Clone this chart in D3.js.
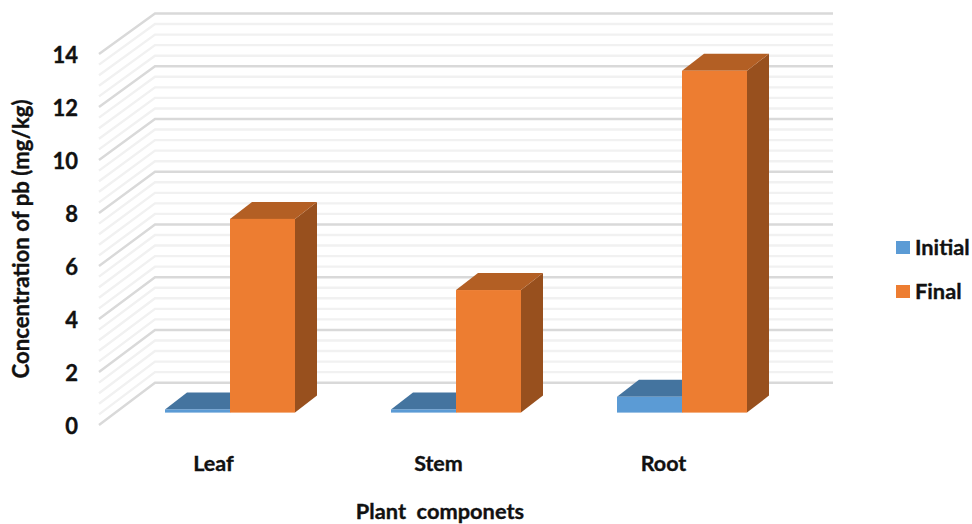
<!DOCTYPE html>
<html>
<head>
<meta charset="utf-8">
<script src="https://cdn.jsdelivr.net/npm/d3@7"></script>
<style>
  html, body { margin: 0; padding: 0; background: #fff; }
  svg { display: block; }
  text { font-family: Lato, "Open Sans", sans-serif; font-weight: 700; fill: #111; white-space: pre; stroke: #111; stroke-width: 0.35px; }
</style>
</head>
<body>
<svg id="chart" width="972" height="524"></svg>
<script>
const categories = ["Leaf", "Stem", "Root"];
const seriesNames = ["Initial", "Final"];
const initialValues = [0.12, 0.12, 0.6];
const finalValues = [7.35, 4.65, 12.97];
const majorTicks = [0, 2, 4, 6, 8, 10, 12, 14];
const minorTicks = [0.4, 0.8, 1.2, 1.6, 2.4, 2.8, 3.2, 3.6, 4.4, 4.8, 5.2, 5.6, 6.4, 6.8, 7.2, 7.6,
                    8.4, 8.8, 9.2, 9.6, 10.4, 10.8, 11.2, 11.6, 12.4, 12.8, 13.2, 13.6];
const seriesColors = ["#5b9bd5", "#ed7d31"];
const topColors = ["#44749f", "#b35f24"];
const sideColors = ["#3c6a93", "#98501e"];
const seriesValues = [initialValues, finalValues];

const svg = d3.select("#chart");

// Value scales for the three depth planes of the 3D box
const yWallBack = d3.scaleLinear().domain([0, 14]).range([382.7, 13.5]);
const yWallFront = d3.scaleLinear().domain([0, 14]).range([425, 54]);
const yBar = d3.scaleLinear().domain([0, 14]).range([412.6, 43.6]);

const wallFrontX = 99, wallBackX = 155, wallRightX = 833;
const barDepthX = 22, barDepthY = -17;

const xCategory = d3.scaleBand().domain(categories).range([117, 795]);
const xSeries = d3.scaleBand().domain(seriesNames).range([-65, 65]);

// Wall gridlines: minor first so the darker major lines sit on top
const grid = svg.append("g").attr("fill", "none");
const wallLine = v => d3.line()([
  [wallFrontX, yWallFront(v)], [wallBackX, yWallBack(v)], [wallRightX, yWallBack(v)]
]);
grid.selectAll("path.minor").data(minorTicks).join("path")
  .attr("class", "minor").attr("d", wallLine)
  .attr("stroke", "#f1f1f1").attr("stroke-width", 2.4);
grid.selectAll("path.major").data(majorTicks).join("path")
  .attr("class", "major").attr("d", wallLine)
  .attr("stroke", "#d9d9d9").attr("stroke-width", 2.4);

// 3D bars: each one is a front face, a top face and a right side face
const barData = categories.flatMap((c, ci) =>
  seriesNames.map((s, si) => ({ c, si, value: seriesValues[si][ci] })));
const bars = svg.append("g").selectAll("g").data(barData).join("g");

const geometry = d => {
  const center = xCategory(d.c) + xCategory.bandwidth() / 2;
  const x0 = center + xSeries(seriesNames[d.si]);
  return { x0, x1: x0 + xSeries.bandwidth(), yt: yBar(d.value), yb: yBar(0) };
};

bars.append("path")
  .attr("fill", d => sideColors[d.si])
  .attr("d", d => {
    const g = geometry(d);
    return d3.line()([[g.x1, g.yt], [g.x1 + barDepthX, g.yt + barDepthY],
      [g.x1 + barDepthX, g.yb + barDepthY], [g.x1, g.yb]]) + "Z";
  });
bars.append("path")
  .attr("fill", d => topColors[d.si])
  .attr("d", d => {
    const g = geometry(d);
    return d3.line()([[g.x0, g.yt], [g.x0 + barDepthX, g.yt + barDepthY],
      [g.x1 + barDepthX, g.yt + barDepthY], [g.x1, g.yt]]) + "Z";
  });
bars.append("rect")
  .attr("fill", d => seriesColors[d.si])
  .attr("x", d => geometry(d).x0)
  .attr("y", d => geometry(d).yt)
  .attr("width", xSeries.bandwidth())
  .attr("height", d => geometry(d).yb - geometry(d).yt);

// Value axis labels along the front edge of the side wall
const yAxis = d3.axisLeft(yWallFront).tickValues(majorTicks).tickSize(0).tickPadding(0);
const yAxisG = svg.append("g").attr("transform", "translate(78,1)").call(yAxis);
yAxisG.select(".domain").remove();
yAxisG.selectAll("text").style("font-size", "22px")
  .style("font-family", "Lato, 'Open Sans', sans-serif").style("font-weight", 700).attr("fill", "#111");

// Category labels
const xAxis = d3.axisBottom(d3.scaleBand().domain(categories).range([101, 776]))
  .tickSize(0).tickPadding(0);
const xAxisG = svg.append("g").attr("transform", "translate(0,455.5)").call(xAxis);
xAxisG.select(".domain").remove();
xAxisG.selectAll("text").style("font-size", "21.5px")
  .style("font-family", "Lato, 'Open Sans', sans-serif").style("font-weight", 700).attr("fill", "#111");

// Axis titles
svg.append("text").attr("x", 440).attr("y", 519).attr("text-anchor", "middle")
  .style("font-size", "21.8px").text("Plant  componets");
svg.append("text").attr("transform", "translate(29,239) rotate(-90)").attr("text-anchor", "middle")
  .style("font-size", "22.2px").text("Concentration of pb (mg/kg)");

// Legend
const legendY = d3.scalePoint().domain(seriesNames).range([247.5, 291.5]);
const legend = svg.append("g").selectAll("g").data(seriesNames).join("g")
  .attr("transform", d => `translate(896,${legendY(d)})`);
legend.append("rect").attr("x", 0).attr("y", -6.5).attr("width", 14).attr("height", 13)
  .attr("fill", (d, i) => seriesColors[i]);
legend.append("text").attr("x", 19).attr("y", 7).style("font-size", "21.8px").text(d => d);
</script>
</body>
</html>
